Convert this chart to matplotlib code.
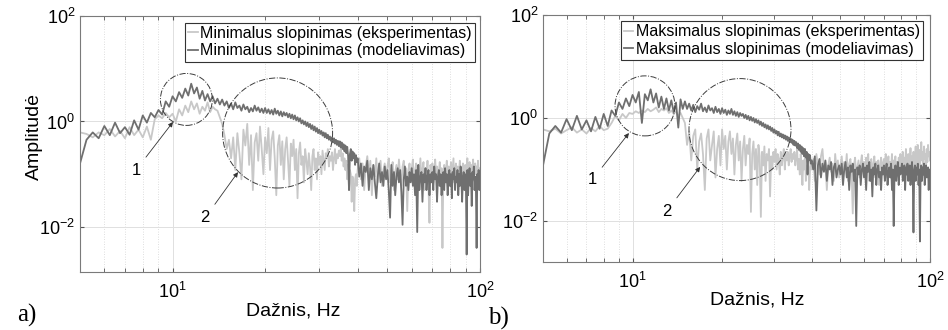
import numpy as np
import matplotlib
matplotlib.use("Agg")
import matplotlib.pyplot as plt
from matplotlib.patches import Ellipse
from matplotlib.ticker import NullFormatter, NullLocator

plt.rcParams["font.family"] = "Liberation Sans"
plt.rcParams["mathtext.fontset"] = "custom"
plt.rcParams["mathtext.rm"] = "Liberation Sans"
plt.rcParams["mathtext.default"] = "regular"
plt.rcParams["axes.unicode_minus"] = False

# frequency bins: 0.25 Hz below 40 Hz, 0.5 Hz from 40 to 100 Hz
FREQ = np.concatenate([np.arange(5.0, 40.0, 0.25), np.arange(40.0, 100.01, 0.5)])

# a) minimal damping
EXP_A = [
    0.62, 0.58, 0.5, 0.62, 0.55, 0.72, 0.52, 0.66, 0.48, 0.78, 0.55, 0.7, 0.5, 0.8, 0.45, 1.1, 1.3, 1.15, 1.45, 1.2,
    1.4, 1.0, 1.7, 1.3, 2.0, 1.5, 2.4, 1.7, 2.2, 1.4, 1.9, 1.6, 2.3, 1.5, 1.9, 1.7, 1.6, 1.2, 0.9, 0.55,
    0.3, 0.45, 0.2, 0.5, 0.12, 0.6, 0.25, 0.08, 0.7, 0.35, 0.9, 0.15, 0.55, 0.05, 0.4, 0.6, 0.18, 0.8, 0.3, 0.1,
    0.5, 0.25, 0.75, 0.12, 0.45, 0.65, 0.2, 0.04, 0.35, 0.55, 0.15, 0.42, 0.08, 0.3, 0.5, 0.18, 0.06, 0.38, 0.22, 0.45,
    0.12, 0.3, 0.035, 0.25, 0.4, 0.15, 0.22, 0.07, 0.3, 0.18, 0.1, 0.25, 0.14, 0.05, 0.22, 0.3, 0.12, 0.2, 0.08, 0.26,
    0.15, 0.22, 0.1, 0.28, 0.18, 0.12, 0.25, 0.2, 0.3, 0.14, 0.22, 0.18, 0.26, 0.12, 0.2, 0.3, 0.16, 0.24, 0.2, 0.28,
    0.22, 0.3, 0.18, 0.25, 0.14, 0.2, 0.12, 0.18, 0.08, 0.15, 0.05, 0.12, 0.1, 0.03, 0.09, 0.06, 0.02, 0.08, 0.1, 0.06,
    0.12, 0.2, 0.08, 0.16, 0.05, 0.14, 0.22, 0.1, 0.18, 0.04, 0.15, 0.09, 0.2, 0.07, 0.13, 0.18, 0.06, 0.12, 0.16, 0.09,
    0.14, 0.2, 0.07, 0.12, 0.17, 0.05, 0.11, 0.15, 0.08, 0.19, 0.1, 0.06, 0.14, 0.18, 0.09, 0.13, 0.02, 0.12, 0.16, 0.08,
    0.13, 0.19, 0.07, 0.11, 0.16, 0.06, 0.14, 0.1, 0.2, 0.08, 0.12, 0.17, 0.05, 0.13, 0.09, 0.18, 0.06, 0.012, 0.15, 0.1,
    0.16, 0.07, 0.12, 0.19, 0.09, 0.14, 0.06, 0.11, 0.17, 0.08, 0.13, 0.004, 0.1, 0.15, 0.07, 0.12, 0.18, 0.09, 0.14, 0.06,
    0.12, 0.17, 0.08, 0.13, 0.2, 0.07, 0.11, 0.16, 0.09, 0.14, 0.05, 0.12, 0.18, 0.08, 0.13, 0.1, 0.16, 0.06, 0.12, 0.15,
    0.09, 0.14, 0.2, 0.07, 0.12, 0.17, 0.1, 0.15, 0.06, 0.13, 0.19, 0.08, 0.12, 0.16, 0.1, 0.14, 0.07, 0.18, 0.11, 0.13,
    0.1,
]
MODEL_A = [
    0.16, 0.45, 0.62, 0.48, 0.82, 0.55, 0.95, 0.6, 0.78, 0.56, 1.05, 0.7, 1.3, 0.95, 1.45, 1.2, 1.65, 1.35, 2.4, 1.9,
    3.0, 2.4, 3.6, 2.8, 4.2, 3.1, 5.2, 3.4, 4.4, 2.7, 3.8, 2.5, 3.3, 2.4, 3.0, 2.2, 2.7, 2.1, 2.6, 2.0,
    2.4, 1.8, 2.2, 1.7, 2.3, 1.8, 2.0, 1.6, 2.1, 1.7, 1.9, 1.5, 1.8, 1.55, 2.0, 1.6, 1.85, 1.5, 1.75, 1.45,
    1.8, 1.45, 1.7, 1.4, 1.65, 1.35, 1.75, 1.4, 1.6, 1.3, 1.55, 1.25, 1.5, 1.3, 1.45, 1.2, 1.4, 1.15, 1.35, 1.1,
    1.3, 1.05, 1.2, 1.0, 1.15, 0.92, 1.05, 0.88, 1.0, 0.82, 0.95, 0.78, 0.9, 0.72, 0.85, 0.68, 0.8, 0.64, 0.75, 0.6,
    0.7, 0.58, 0.66, 0.54, 0.62, 0.5, 0.6, 0.48, 0.56, 0.45, 0.52, 0.43, 0.5, 0.4, 0.48, 0.38, 0.45, 0.36, 0.43, 0.34,
    0.42, 0.32, 0.4, 0.3, 0.37, 0.27, 0.35, 0.25, 0.33, 0.22, 0.05, 0.24, 0.3, 0.18, 0.27, 0.2, 0.25, 0.15, 0.23, 0.17,
    0.2, 0.09, 0.16, 0.06, 0.14, 0.11, 0.18, 0.05, 0.13, 0.08, 0.15, 0.07, 0.035, 0.09, 0.16, 0.07, 0.11, 0.06, 0.14, 0.08,
    0.12, 0.05, 0.015, 0.15, 0.06, 0.11, 0.04, 0.09, 0.13, 0.07, 0.12, 0.045, 0.011, 0.08, 0.14, 0.06, 0.09, 0.05, 0.11, 0.07,
    0.13, 0.06, 0.1, 0.04, 0.12, 0.008, 0.15, 0.05, 0.09, 0.11, 0.03, 0.1, 0.07, 0.13, 0.05, 0.09, 0.12, 0.04, 0.1, 0.07,
    0.11, 0.05, 0.14, 0.08, 0.1, 0.03, 0.09, 0.12, 0.06, 0.1, 0.04, 0.08, 0.11, 0.05, 0.13, 0.07, 0.1, 0.04, 0.09, 0.12,
    0.06, 0.1, 0.035, 0.11, 0.08, 0.13, 0.05, 0.09, 0.07, 0.12, 0.04, 0.1, 0.06, 0.14, 0.08, 0.03, 0.09, 0.11, 0.05, 0.1,
    0.07, 0.003, 0.12, 0.04, 0.09, 0.13, 0.06, 0.1, 0.025, 0.11, 0.08, 0.14, 0.05, 0.09, 0.06, 0.004, 0.1, 0.07, 0.12, 0.05,
    0.09,
]

# b) maximal damping
EXP_B = [
    0.6, 0.55, 0.62, 0.5, 0.58, 0.66, 0.52, 0.6, 0.5, 0.64, 0.55, 0.7, 0.58, 0.62, 0.8, 1.1, 0.9, 1.2, 1.0, 1.25,
    1.2, 1.35, 1.25, 1.4, 1.3, 1.5, 1.35, 1.45, 1.6, 1.3, 1.5, 1.4, 1.55, 1.25, 1.4, 1.2, 1.35, 1.1, 1.25, 1.0,
    0.8, 0.3, 0.55, 0.15, 0.45, 0.6, 0.1, 0.35, 0.5, 0.2, 0.04, 0.4, 0.6, 0.15, 0.3, 0.55, 0.07, 0.25, 0.45, 0.12,
    0.6, 0.25, 0.45, 0.1, 0.35, 0.55, 0.2, 0.4, 0.08, 0.3, 0.5, 0.15, 0.35, 0.06, 0.25, 0.45, 0.12, 0.3, 0.2, 0.4,
    0.015, 0.2, 0.35, 0.1, 0.25, 0.05, 0.3, 0.18, 0.012, 0.22, 0.12, 0.28, 0.06, 0.2, 0.15, 0.25, 0.03, 0.18, 0.1, 0.22,
    0.14, 0.25, 0.1, 0.2, 0.16, 0.08, 0.22, 0.12, 0.18, 0.25, 0.1, 0.2, 0.15, 0.22, 0.12, 0.18, 0.25, 0.14, 0.2, 0.16,
    0.22, 0.12, 0.18, 0.25, 0.1, 0.16, 0.08, 0.2, 0.12, 0.05, 0.15, 0.1, 0.18, 0.06, 0.12, 0.09, 0.14, 0.04, 0.1, 0.13,
    0.1, 0.16, 0.06, 0.2, 0.12, 0.08, 0.18, 0.25, 0.1, 0.14, 0.04, 0.12, 0.17, 0.09, 0.13, 0.06, 0.2, 0.1, 0.15, 0.07,
    0.12, 0.18, 0.08, 0.14, 0.1, 0.2, 0.06, 0.13, 0.16, 0.09, 0.014, 0.12, 0.17, 0.08, 0.11, 0.15, 0.07, 0.13, 0.19, 0.1,
    0.14, 0.08, 0.17, 0.11, 0.2, 0.06, 0.13, 0.16, 0.09, 0.12, 0.18, 0.07, 0.14, 0.1, 0.15, 0.05, 0.12, 0.17, 0.09, 0.13,
    0.16, 0.1, 0.2, 0.07, 0.13, 0.18, 0.09, 0.14, 0.11, 0.2, 0.06, 0.15, 0.12, 0.18, 0.08, 0.14, 0.1, 0.17, 0.12, 0.2,
    0.09, 0.15, 0.22, 0.1, 0.17, 0.12, 0.25, 0.08, 0.16, 0.2, 0.11, 0.14, 0.26, 0.09, 0.18, 0.13, 0.22, 0.1, 0.16, 0.28,
    0.12, 0.2, 0.3, 0.14, 0.24, 0.1, 0.18, 0.34, 0.15, 0.22, 0.12, 0.28, 0.16, 0.2, 0.1, 0.25, 0.14, 0.3, 0.18, 0.22,
    0.15,
]
MODEL_B = [
    0.12, 0.5, 0.7, 0.52, 0.95, 0.58, 1.1, 0.6, 0.9, 0.55, 1.05, 0.62, 1.2, 0.7, 1.4, 1.1, 2.0, 1.5, 2.4, 1.7,
    2.8, 2.0, 3.2, 0.8, 2.9, 2.2, 3.6, 2.0, 3.0, 1.6, 2.6, 1.5, 2.4, 1.4, 2.2, 1.3, 2.0, 0.65, 2.3, 1.5,
    2.1, 1.5, 1.9, 1.4, 1.8, 1.3, 1.7, 1.45, 1.9, 1.35, 1.6, 1.3, 1.75, 1.4, 1.55, 1.25, 1.65, 1.3, 1.5, 1.2,
    1.55, 1.25, 1.45, 1.15, 1.4, 1.2, 1.5, 1.15, 1.35, 1.1, 1.3, 1.05, 1.25, 1.1, 1.2, 1.0, 1.15, 0.95, 1.1, 0.9,
    1.05, 0.88, 1.0, 0.82, 0.95, 0.8, 0.9, 0.74, 0.85, 0.7, 0.8, 0.66, 0.75, 0.62, 0.72, 0.6, 0.68, 0.56, 0.64, 0.52,
    0.6, 0.5, 0.56, 0.46, 0.54, 0.44, 0.5, 0.42, 0.48, 0.4, 0.46, 0.38, 0.44, 0.36, 0.42, 0.34, 0.4, 0.33, 0.38, 0.3,
    0.36, 0.29, 0.34, 0.26, 0.32, 0.24, 0.3, 0.22, 0.28, 0.2, 0.26, 0.18, 0.25, 0.17, 0.22, 0.08, 0.2, 0.15, 0.19, 0.13,
    0.15, 0.1, 0.18, 0.016, 0.12, 0.16, 0.07, 0.13, 0.09, 0.15, 0.06, 0.12, 0.1, 0.14, 0.05, 0.11, 0.13, 0.07, 0.1, 0.12,
    0.08, 0.13, 0.05, 0.1, 0.14, 0.07, 0.11, 0.04, 0.12, 0.09, 0.13, 0.06, 0.1, 0.008, 0.11, 0.08, 0.12, 0.05, 0.1, 0.13,
    0.07, 0.11, 0.04, 0.12, 0.09, 0.14, 0.06, 0.1, 0.03, 0.11, 0.08, 0.13, 0.05, 0.1, 0.12, 0.07, 0.09, 0.04, 0.11, 0.08,
    0.12, 0.06, 0.1, 0.13, 0.05, 0.09, 0.11, 0.07, 0.13, 0.04, 0.1, 0.008, 0.09, 0.12, 0.06, 0.1, 0.14, 0.05, 0.11, 0.08,
    0.1, 0.13, 0.06, 0.09, 0.12, 0.04, 0.11, 0.08, 0.13, 0.06, 0.1, 0.12, 0.05, 0.09, 0.14, 0.07, 0.006, 0.1, 0.12, 0.06,
    0.11, 0.08, 0.13, 0.05, 0.1, 0.004, 0.09, 0.12, 0.06, 0.11, 0.08, 0.13, 0.05, 0.1, 0.12, 0.07, 0.09, 0.11, 0.04, 0.1,
    0.07,
]

LABELS_A = ["Minimalus slopinimas (eksperimentas)", "Minimalus slopinimas (modeliavimas)"]
LABELS_B = ["Maksimalus slopinimas (eksperimentas)", "Maksimalus slopinimas (modeliavimas)"]

LIGHT = "#c8c8c8"
DARK = "#6f6f6f"


def panel(ax, exp, mod, labels, ylim, circles, arrows, leg_anchor, xlab_pos):
    ax.plot(FREQ, exp, color=LIGHT, lw=1.3, label=labels[0])
    ax.plot(FREQ, mod, color=DARK, lw=1.3, label=labels[1])
    ax.set_xscale("log"); ax.set_yscale("log")
    ax.set_xlim(5, 100); ax.set_ylim(*ylim)
    ax.set_yticks([1e-2, 1e0, 1e2])
    ax.yaxis.set_minor_locator(NullLocator())
    ax.xaxis.set_minor_formatter(NullFormatter())
    ax.grid(which="major", color="#e0e0e0", lw=0.7)
    ax.grid(which="minor", axis="x", color="#d4d4d4", lw=0.6, ls=(0, (1, 2)))
    ax.tick_params(which="both", direction="in", top=True, right=True, labelsize=13,
                   length=3, color="#555555")
    ax.tick_params(axis="x", pad=7)
    for s in ax.spines.values():
        s.set_color("#7a7a7a"); s.set_linewidth(0.8)
    for (cx, cy, w, h) in circles:
        ax.add_patch(Ellipse((cx, cy), w, h, transform=ax.transAxes, fill=False,
                             ls="-.", lw=0.7, ec="#3c3c3c", zorder=5))
    for txt, tip, pos in arrows:
        ax.annotate(txt, xy=tip, xytext=pos, xycoords="axes fraction",
                    textcoords="axes fraction", ha="center", va="center", fontsize=12,
                    arrowprops=dict(arrowstyle="-|>", color="#333333", lw=0.6,
                                    mutation_scale=7, shrinkA=3, shrinkB=0))
    leg = ax.legend(loc="upper right", bbox_to_anchor=leg_anchor, borderaxespad=0,
                    fontsize=11.5, handlelength=0.6, handletextpad=0.15, labelspacing=0.15,
                    borderpad=0.2, fancybox=False, edgecolor="#333333", framealpha=1)
    leg.get_frame().set_linewidth(0.8)
    ax.set_xlabel("Dažnis, Hz", fontsize=14)
    ax.xaxis.set_label_coords(*xlab_pos)


fig = plt.figure(figsize=(9.48, 3.30), dpi=100)
ax_a = fig.add_axes([0.0844, 0.1758, 0.4219, 0.7758])
ax_b = fig.add_axes([0.5728, 0.2061, 0.4082, 0.7485])

panel(ax_a, EXP_A, MODEL_A, LABELS_A, (1.4e-3, 1e2),
      [(0.266, 0.674, 0.13, 0.203), (0.494, 0.543, 0.275, 0.43)],
      [("1", (0.2325, 0.586), (0.14, 0.398)), ("2", (0.395, 0.39), (0.3125, 0.211))],
      (0.9875, 0.973), (0.533, -0.12))
panel(ax_b, EXP_B, MODEL_B, LABELS_B, (1.6e-3, 1e2),
      [(0.2636, 0.632, 0.155, 0.243), (0.509, 0.536, 0.2636, 0.413)],
      [("1", (0.222, 0.522), (0.127, 0.332)), ("2", (0.406, 0.385), (0.32, 0.206))],
      (0.982, 0.976), (0.553, -0.121))

ax_a.set_ylabel("Amplitudė", fontsize=14)
ax_a.yaxis.set_label_coords(-0.0925, 0.53)

fig.text(0.028, 0.045, "a)", family="Liberation Serif", fontsize=18, ha="center", va="center")
fig.text(0.526, 0.036, "b)", family="Liberation Serif", fontsize=18, ha="center", va="center")

fig.savefig("out.png", dpi=100)
